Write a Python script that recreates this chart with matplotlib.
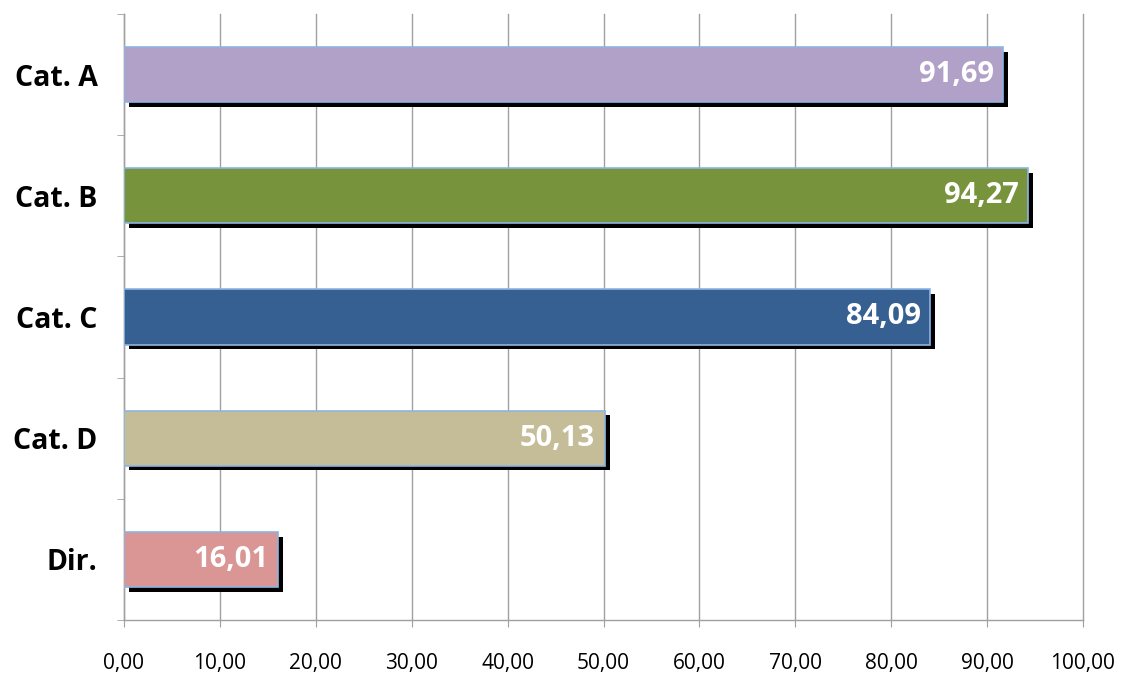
import numpy as np
import matplotlib.pyplot as plt
import matplotlib.patheffects as pe
from matplotlib.ticker import FixedLocator, FuncFormatter

categories = ["Cat. A", "Cat. B", "Cat. C", "Cat. D", "Dir."]
values = [91.69, 94.27, 84.09, 50.13, 16.01]
colors = ["#B1A0C7", "#77933C", "#366092", "#C4BD97", "#DA9694"]

plt.rcParams['font.family'] = ['Open Sans', 'DejaVu Sans']

fig = plt.figure(figsize=(11.21, 6.78), dpi=100)
ax = fig.add_axes([124 / 1121, 1 - 620 / 678, (1083 - 124) / 1121, (620 - 14) / 678])

y = np.arange(len(categories))
bars = ax.barh(y, values, height=0.455, color=colors, edgecolor="#8DB4E2", linewidth=1.2, zorder=3)
for b in bars:
    b.set_path_effects([pe.SimplePatchShadow(offset=(3.6, -3.4), shadow_rgbFace="black", alpha=1.0), pe.Normal()])

for yi, v in zip(y, values):
    ax.text(v - 1.0, yi, f"{v:.2f}".replace(".", ","), ha="right", va="center",
            color="white", fontsize=21, fontweight="bold", zorder=4)

ax.set_xlim(0, 100)
ax.set_ylim(4.5, -0.5)
ax.set_xticks(np.arange(0, 101, 10))
ax.xaxis.set_major_formatter(FuncFormatter(lambda x, p: f"{x:.2f}".replace(".", ",")))
ax.set_yticks(y)
ax.set_yticklabels(categories, fontsize=20.5, fontweight="bold")
ax.yaxis.set_minor_locator(FixedLocator(np.arange(-0.5, 5, 1)))
ax.tick_params(axis="y", which="major", length=0, pad=19)
ax.tick_params(axis="y", which="minor", length=5, color="#A0A0A0", direction="out")
ax.tick_params(axis="x", length=5, color="#A0A0A0", labelsize=15, pad=19)

ax.grid(axis="x", color="#A0A0A0", linewidth=1.0, zorder=0)
for gl in ax.get_xgridlines():
    gl.set_clip_on(False)
ax.set_axisbelow(True)
for s in ["top", "right"]:
    ax.spines[s].set_visible(False)
for s in ["left", "bottom"]:
    ax.spines[s].set_color("#A0A0A0")
    ax.spines[s].set_linewidth(1.0)

fig.savefig("out.png", dpi=100)
